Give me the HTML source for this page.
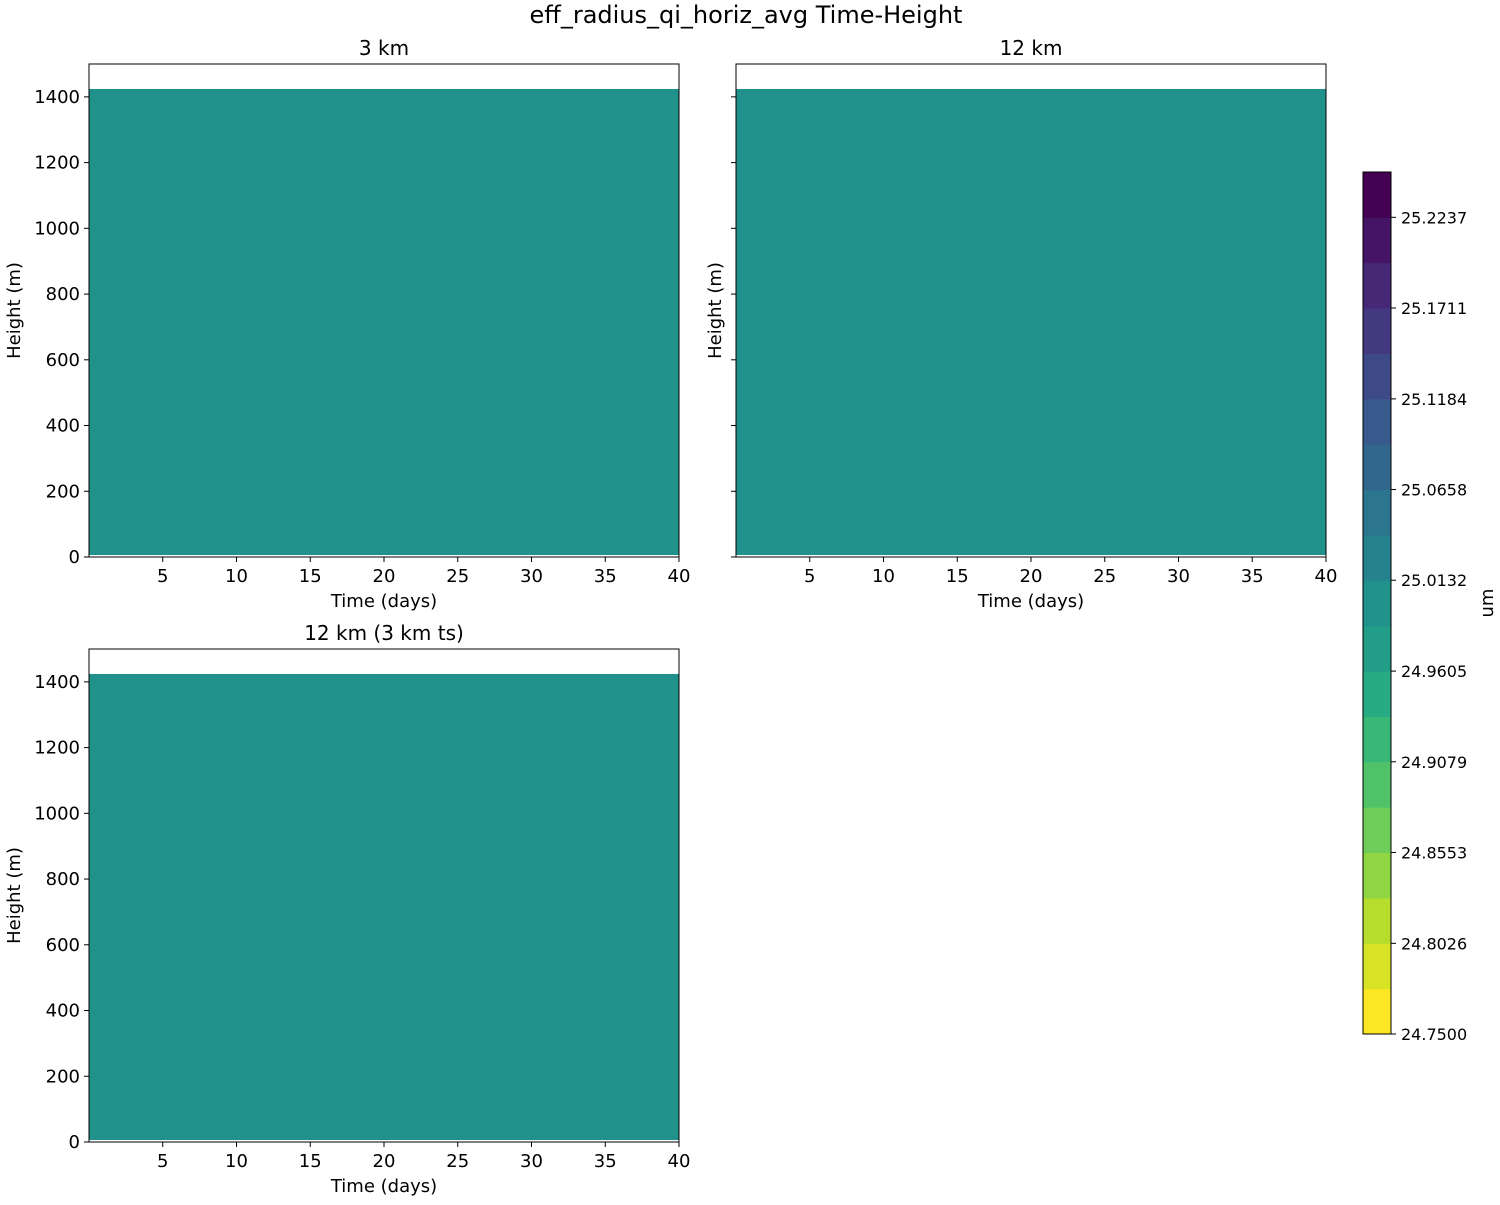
<!DOCTYPE html>
<html><head><meta charset="utf-8"><style>
body{margin:0;background:#fff;}
svg text{font-family:"DejaVu Sans","Liberation Sans",sans-serif;fill:#000;}
</style></head><body>
<svg id="fig" width="1500" height="1200" viewBox="0 0 1500 1200" xmlns="http://www.w3.org/2000/svg">
<text x="746" y="23" font-size="24" text-anchor="middle">eff_radius_qi_horiz_avg Time-Height</text>
</svg>
<script>
const panelTitles = ["3 km", "12 km", "12 km (3 km ts)"];
const timeRange = [0, 40];
const heightRange = [0, 1500];
const dataTimes = [0, 40];
const dataHeights = [6, 1424];
const dataValues = [25.0, 25.0, 25.0];
const xTicks = [5, 10, 15, 20, 25, 30, 35, 40];
const yTicks = [0, 200, 400, 600, 800, 1000, 1200, 1400];
const cbLevels = [24.75,24.7763,24.8026,24.8289,24.8553,24.8816,24.9079,24.9342,24.9605,24.9868,25.0132,25.0395,25.0658,25.0921,25.1184,25.1447,25.1711,25.1974,25.2237,25.25];
const cbTickLabels = ["24.7500","24.8026","24.8553","24.9079","24.9605","25.0132","25.0658","25.1184","25.1711","25.2237"];

const NS="http://www.w3.org/2000/svg";
const svg=document.getElementById('fig');
function mk(t,a,p){const e=document.createElementNS(NS,t);for(const k in a)e.setAttribute(k,a[k]);(p||svg).appendChild(e);return e;}
const vk=[[0,'#440154'],[0.1,'#482475'],[0.2,'#414487'],[0.3,'#355f8d'],[0.4,'#2a788e'],[0.5,'#21918c'],[0.6,'#22a884'],[0.7,'#44bf70'],[0.8,'#7ad151'],[0.9,'#bddf26'],[1,'#fde725']];
function hx(h){return [1,3,5].map(i=>parseInt(h.substr(i,2),16));}
function viridis(t){t=Math.max(0,Math.min(1,t));for(let i=0;i<vk.length-1;i++){if(t<=vk[i+1][0]){const f=(t-vk[i][0])/(vk[i+1][0]-vk[i][0]);const a=hx(vk[i][1]),b=hx(vk[i+1][1]);return 'rgb('+a.map((v,j)=>Math.round(v+(b[j]-v)*f)).join(',')+')';}}return vk[vk.length-1][1];}
const nb=cbLevels.length-1;
function bandColor(i){return viridis(1-i/(nb-1));}
function colorFor(v){for(let i=0;i<nb;i++){if(v>=cbLevels[i]&&v<cbLevels[i+1])return bandColor(i);}return bandColor(v<cbLevels[0]?0:nb-1);}

const panels=[{x:89,y:64,w:590,h:493,ylab:true},{x:736,y:64,w:590,h:493,ylab:false},{x:89,y:649,w:590,h:493,ylab:true}];
panels.forEach((p,k)=>{
  const g=mk('g',{});
  
  
  const sx=t=>p.x+(t-timeRange[0])/(timeRange[1]-timeRange[0])*p.w;
  const sy=h=>p.y+p.h-(h-heightRange[0])/(heightRange[1]-heightRange[0])*p.h;
  const r=mk('rect',{x:sx(dataTimes[0]),y:sy(dataHeights[1]),width:sx(dataTimes[1])-sx(dataTimes[0]),height:sy(dataHeights[0])-sy(dataHeights[1]),fill:colorFor(dataValues[k])},g);
  
  
  mk('rect',{x:p.x,y:p.y,width:p.w,height:p.h,fill:'none',stroke:'#000','stroke-width':1},g);
  const t=mk('text',{x:p.x+p.w/2,y:p.y-9,'font-size':20,'text-anchor':'middle'},g);t.textContent=panelTitles[k];
  
  
  xTicks.forEach(v=>{const x=sx(v);mk('line',{x1:x,x2:x,y1:p.y+p.h,y2:p.y+p.h+5,stroke:'#000'},g);
    const tt=mk('text',{x:x,y:p.y+p.h+25,'font-size':18,'text-anchor':'middle'},g);tt.textContent=v;
    
    });
  yTicks.forEach(v=>{const y=sy(v);mk('line',{x1:p.x-5,x2:p.x,y1:y,y2:y,stroke:'#000'},g);
    if(p.ylab){const tt=mk('text',{x:p.x-9,y:y+6,'font-size':18,'text-anchor':'end'},g);tt.textContent=v;
    
    }});
  const xl=mk('text',{x:p.x+p.w/2,y:p.y+p.h+50,'font-size':18,'text-anchor':'middle'},g);xl.textContent='Time (days)';
  
  
  const yx=p.ylab?20:721;
  const yl=mk('text',{x:yx,y:p.y+p.h/2,'font-size':18,'text-anchor':'middle',transform:'rotate(-90 '+yx+' '+(p.y+p.h/2)+')'},g);yl.textContent='Height (m)';
  
  
});
// colorbar
const cb={x:1363,y:172,w:28,h:862};
const cg=mk('g',{});


const cy=v=>cb.y+cb.h-(v-cbLevels[0])/(cbLevels[nb]-cbLevels[0])*cb.h;
for(let i=0;i<nb;i++){const r=mk('rect',{x:cb.x,y:cy(cbLevels[i+1]),width:cb.w,height:cy(cbLevels[i])-cy(cbLevels[i+1])+0.5,fill:bandColor(i)},cg);
  
  }
mk('rect',{x:cb.x,y:cb.y,width:cb.w,height:cb.h,fill:'none',stroke:'#000'},cg);
cbTickLabels.forEach(s=>{const y=cy(parseFloat(s));mk('line',{x1:cb.x+cb.w,x2:cb.x+cb.w+5,y1:y,y2:y,stroke:'#000'},cg);
  const t=mk('text',{x:cb.x+cb.w+10,y:y+6,'font-size':16},cg);t.textContent=s;
  
  });
const ul=mk('text',{x:1493,y:603,'font-size':18,'text-anchor':'middle',transform:'rotate(-90 1493 603)'},cg);ul.textContent='um';


</script>
</body></html>
